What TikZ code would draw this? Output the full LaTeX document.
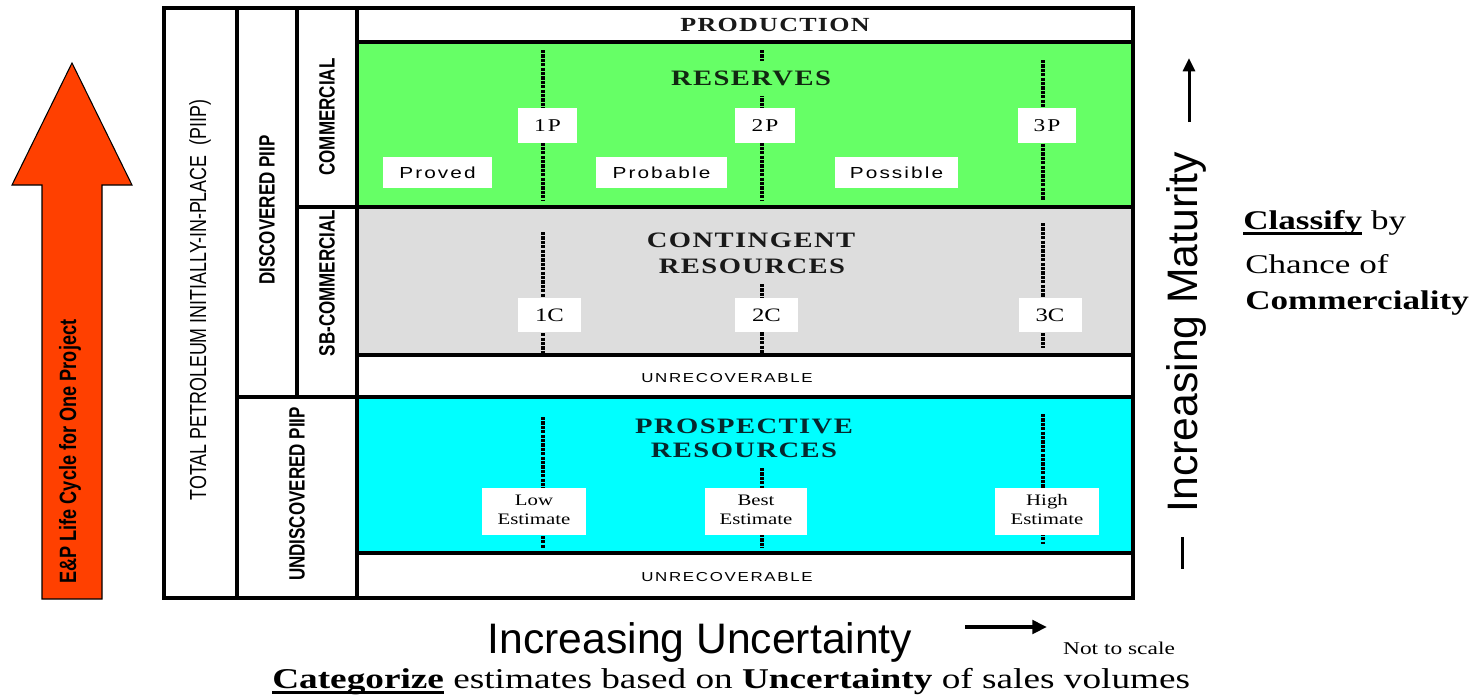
\documentclass[tikz,border=0pt]{standalone}
\usepackage{fontspec}
\setmainfont{Liberation Serif}
\newfontfamily\arial{Liberation Sans}
\newfontfamily\ttlfont[LetterSpace=5]{Liberation Serif}
\newfontfamily\arialsp[LetterSpace=10]{Liberation Sans}
\newfontfamily\serifsp[LetterSpace=8]{Liberation Serif}
\usetikzlibrary{arrows.meta}
\newcommand{\hs}[1]{\scalebox{1.3}[1]{#1}}
\newcommand{\vs}[1]{\scalebox{1}[1.3]{#1}}
\newsavebox{\ulbox}
\newcommand{\thul}[1]{\sbox{\ulbox}{#1}\leavevmode\rlap{\rule[-4.2pt]{\wd\ulbox}{1.7pt}}\usebox{\ulbox}}
\definecolor{resgreen}{RGB}{102,255,102}
\definecolor{contgray}{RGB}{221,221,221}
\definecolor{prospcyan}{RGB}{0,255,255}
\definecolor{arroworange}{RGB}{255,64,0}
\definecolor{restext}{RGB}{18,40,18}
\definecolor{conttext}{RGB}{25,25,25}
\definecolor{prosptext}{RGB}{6,40,46}
\begin{document}
\begin{tikzpicture}[x=0.75pt,y=-0.75pt,
  frameline/.style={line width=3pt},
  divider/.style={line width=3.4pt, dash pattern=on 2.4pt off 0.9pt},
  lbl/.style={fill=white, inner sep=0pt},
  vlab/.style={rotate=90, inner sep=0pt, font=\arial\bfseries\fontsize{12.75pt}{12.75pt}\selectfont},
  ttl/.style={inner sep=0pt, font=\ttlfont\bfseries\fontsize{16.5pt}{16.5pt}\selectfont},
  unrec/.style={inner sep=0pt, font=\arialsp\fontsize{9.75pt}{9.75pt}\selectfont},
  pbox/.style={lbl, minimum height=26.25pt, font=\serifsp\fontsize{13.5pt}{13.5pt}\selectfont},
  cbox/.style={lbl, minimum width=47.25pt, minimum height=25.5pt, font=\fontsize{14.25pt}{14.25pt}\selectfont},
  nbox/.style={lbl, minimum height=23.25pt, font=\arialsp\fontsize{12pt}{12pt}\selectfont},
  ebox/.style={lbl, minimum height=35.25pt, font=\fontsize{12pt}{14.25pt}\selectfont},
]
\useasboundingbox (0,0) rectangle (1478,697);

% ---------- left arrow ----------
\draw[fill=arroworange, line width=0.8pt]
  (42,599) -- (42,185) -- (12,185) -- (72,63) -- (132,185) -- (102,185) -- (102,599) -- cycle;
\node[rotate=90, anchor=west, inner sep=0pt, font=\arial\bfseries\fontsize{13.6pt}{13.6pt}\selectfont] (life) at (70,584) {\vs{E\&P Life Cycle for One Project}};

% ---------- coloured bands ----------
\fill[resgreen] (357,42) rectangle (1133,207);
\fill[contgray] (357,207) rectangle (1133,355);
\fill[prospcyan] (357,397) rectangle (1133,553);

% ---------- dotted dividers ----------
\coordinate (p1t) at (543,50);   \coordinate (p1b) at (543,200);
\coordinate (p2t) at (762,50);   \coordinate (p2b) at (762,200);
\coordinate (p3t) at (1043,60);  \coordinate (p3b) at (1043,200);
\coordinate (c1t) at (543,232);  \coordinate (c1b) at (543,355);
\coordinate (c2t) at (762,284);  \coordinate (c2b) at (762,355);
\coordinate (c3t) at (1043,223); \coordinate (c3b) at (1043,348);
\coordinate (e1t) at (543,417);  \coordinate (e1b) at (543,548);
\coordinate (e2t) at (762,468);  \coordinate (e2b) at (762,548);
\coordinate (e3t) at (1043,414); \coordinate (e3b) at (1043,544);
\foreach \a/\b in {p1t/p1b,p2t/p2b,p3t/p3b,c1t/c1b,c2t/c2b,c3t/c3b,e1t/e1b,e2t/e2b,e3t/e3b}
  \draw[divider] (\a) -- (\b);

% ---------- titles ----------
\node[ttl, font=\ttlfont\bfseries\fontsize{15pt}{15pt}\selectfont, text=conttext] (prod) at (775,25) {\hs{PRODUCTION}};
\node[ttl, fill=resgreen, inner xsep=3pt, minimum height=26.25pt, text=restext] (res) at (751,78) {\hs{RESERVES}};
\node[ttl, text=conttext] (cont1) at (751,240) {\hs{CONTINGENT}};
\node[ttl, text=conttext] (cont2) at (752,266) {\hs{RESOURCES}};
\node[ttl, text=prosptext] (prosp1) at (744,426) {\hs{PROSPECTIVE}};
\node[ttl, text=prosptext] (prosp2) at (744,450) {\hs{RESOURCES}};
\node[unrec] (unrec1) at (727,378) {\hs{UNRECOVERABLE}};
\node[unrec] (unrec2) at (727,577) {\hs{UNRECOVERABLE}};

% ---------- label boxes ----------
\node[pbox, minimum width=44.25pt] (b1p) at (547.5,125.5) {\hs{1P}};
\node[pbox, minimum width=45pt]    (b2p) at (765,125.5)   {\hs{2P}};
\node[pbox, minimum width=43.5pt]  (b3p) at (1047,125.5)  {\hs{3P}};
\node[nbox, minimum width=81.75pt] (proved)   at (437.5,172.5) {\hs{Proved}};
\node[nbox, minimum width=98.25pt] (probable) at (661.5,172.5) {\hs{Probable}};
\node[nbox, minimum width=92.25pt] (possible) at (896.5,172.5) {\hs{Possible}};
\node[cbox] (b1c) at (549.5,315) {\hs{1C}};
\node[cbox] (b2c) at (766.5,315) {\hs{2C}};
\node[cbox] (b3c) at (1050,315)  {\hs{3C}};
\node[ebox, minimum width=78pt]   (low)  at (534,511.5)  {\hs{\begin{tabular}{@{}c@{}}Low\\Estimate\end{tabular}}};
\node[ebox, minimum width=76.5pt] (best) at (756,511.5)  {\hs{\begin{tabular}{@{}c@{}}Best\\Estimate\end{tabular}}};
\node[ebox, minimum width=78pt]   (high) at (1047,511.5) {\hs{\begin{tabular}{@{}c@{}}High\\Estimate\end{tabular}}};

% ---------- frame ----------
\draw[frameline] (164,8) rectangle (1133,598);
\draw[frameline] (237,8) -- (237,598);
\draw[frameline] (297,8) -- (297,397);
\draw[frameline] (357,8) -- (357,598);
\draw[frameline] (357,42) -- (1133,42);
\draw[frameline] (297,207) -- (1133,207);
\draw[frameline] (357,355) -- (1133,355);
\draw[frameline] (237,397) -- (1133,397);
\draw[frameline] (357,553) -- (1133,553);

% ---------- vertical labels ----------
\node[vlab, font=\arial\fontsize{13.4pt}{13.4pt}\selectfont] (piip) at (200,300) {\vs{TOTAL PETROLEUM INITIALLY-IN-PLACE~~(PIIP)}};
\node[vlab] (disc) at (267,210) {\vs{DISCOVERED PIIP}};
\node[vlab] (comm) at (327,117) {\vs{COMMERCIAL}};
\node[vlab] (sbcomm) at (327,283) {\vs{SB-COMMERCIAL}};
\node[vlab] (undisc) at (297,494) {\vs{UNDISCOVERED PIIP}};

% ---------- right side ----------
\coordinate (barT) at (1182,537); \coordinate (barB) at (1182,569);
\draw[line width=2.25pt] (barT) -- (barB);
\coordinate (matA) at (1189,122); \coordinate (matB) at (1189,58);
\draw[line width=2.25pt, -{Triangle[length=10pt,width=9pt]}] (matA) -- (matB);
\node[rotate=90, anchor=base, inner sep=0pt, font=\arial\fontsize{32pt}{32pt}\selectfont] (mat) at (1197,332) {Increasing Maturity};

\node[anchor=base west, inner sep=0pt, font=\fontsize{20.25pt}{20.25pt}\selectfont] (cls1) at (1243,229) {\hs{\thul{\textbf{Classify}} by}};
\node[anchor=base west, inner sep=0pt, font=\fontsize{20.25pt}{20.25pt}\selectfont] (cls2) at (1245,273) {\hs{Chance of}};
\node[anchor=base west, inner sep=0pt, font=\fontsize{20.25pt}{20.25pt}\selectfont] (cls3) at (1245,309) {\hs{\textbf{Commerciality}}};

% ---------- bottom ----------
\node[anchor=base, inner sep=0pt, font=\arial\fontsize{32pt}{32pt}\selectfont] (unc) at (700,653) {Increasing Uncertainty};
\coordinate (uncA) at (965,627); \coordinate (uncB) at (1047,627);
\draw[line width=3pt, -{Triangle[length=11pt,width=10pt]}] (uncA) -- (uncB);
\node[inner sep=0pt, font=\fontsize{13.5pt}{13.5pt}\selectfont] (nts) at (1119,648) {\hs{Not to scale}};
\node[anchor=base west, inner sep=0pt, font=\fontsize{21.5pt}{21.5pt}\selectfont] (cat) at (272,688) {\hs{\thul{\textbf{Categorize}} estimates based on \textbf{Uncertainty} of sales volumes}};
\end{tikzpicture}
\end{document}
